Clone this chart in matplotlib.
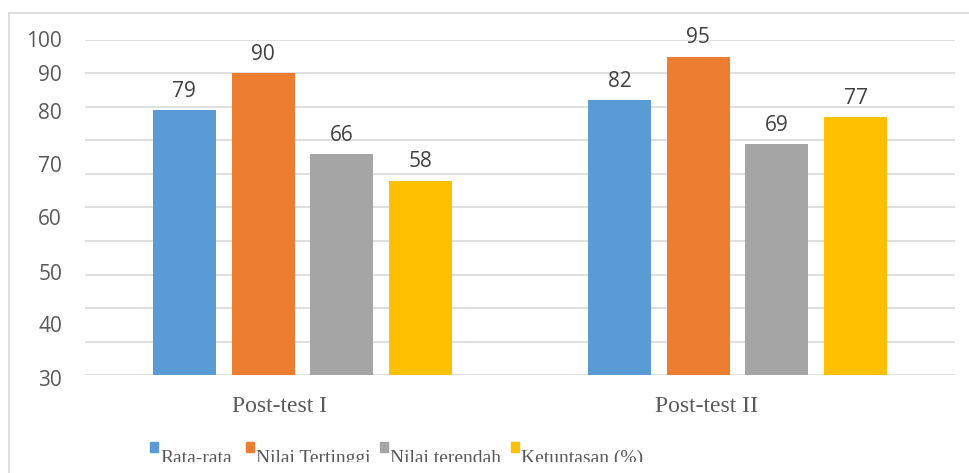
import matplotlib
matplotlib.use("Agg")
import matplotlib.pyplot as plt
from matplotlib.patches import Rectangle
from matplotlib.lines import Line2D
from matplotlib.transforms import Bbox, TransformedBbox
import numpy as np

categories = ["Post-test I", "Post-test II"]
series = ["Rata-rata", "Nilai Tertinggi", "Nilai terendah", "Ketuntasan (%)"]
rata_rata = [79, 82]
nilai_tertinggi = [90, 95]
nilai_terendah = [66, 69]
ketuntasan = [58, 77]
y_labels = ["100", "90", "80", "70", "60", "50", "40", "30"]

values = [rata_rata, nilai_tertinggi, nilai_terendah, ketuntasan]
colors = ["#5B9BD5", "#ED7D31", "#A5A5A5", "#FFC000"]

# where the typed-in axis labels sit (data units on the 0-100 scale)
y_label_pos = [99.7, 89.4, 78.1, 62.1, 46.3, 30.1, 14.6, -1.5]
# category captions sit a little left of the group centres
cat_shift = [-0.052, -0.072]
# legend swatch left edges, in pixels
legend_x = [150, 246, 380, 511]

W, H = 970, 473
fig = plt.figure(figsize=(W / 100, H / 100), dpi=100)
ax = fig.add_axes([85 / W, 1 - 375 / H, 870 / W, 335 / H])

x = np.arange(len(categories))
width = 0.145
step = 0.181
for i, (vals, c) in enumerate(zip(values, colors)):
    pos = x + (i - 1.5) * step
    bars = ax.bar(pos, vals, width, color=c, zorder=3)
    for b, v in zip(bars, vals):
        ax.annotate(str(v), (b.get_x() + b.get_width() / 2, v),
                    xytext=(0, 6), textcoords="offset points",
                    ha="center", va="bottom", fontsize=15,
                    family="Open Sans", color="#404040")

ax.set_xlim(-0.5, 1.5)
ax.set_ylim(0, 100)
ax.set_yticks(np.arange(0, 101, 10))
ax.set_yticklabels([])
ax.tick_params(axis="y", length=0)
ax.grid(axis="y", color="#D9D9D9", linewidth=1.2, zorder=0)
for s in ax.spines.values():
    s.set_visible(False)

ax.set_xticks(x)
ax.set_xticklabels([])
ax.tick_params(axis="x", length=0)
for xi, name, sh in zip(x, categories, cat_shift):
    ax.text(xi + sh, -37 / 335, name, transform=ax.get_xaxis_transform(),
            ha="center", va="baseline", fontsize=17,
            family="Liberation Serif", color="#595959")

for lab, p in zip(y_labels, y_label_pos):
    ax.text(-0.0264, p, lab, transform=ax.get_yaxis_transform(),
            ha="right", va="center", fontsize=15, family="Open Sans",
            color="#595959", clip_on=False)

# legend along the bottom, cut off by the frame edge
clip = TransformedBbox(Bbox([[0, 11 / H], [1, 1]]), fig.transFigure)
for name, c, lx in zip(series, colors, legend_x):
    fig.patches.append(Rectangle((lx / W, 1 - 452 / H), 8 / W, 10 / H,
                                 transform=fig.transFigure, color=c))
    t = fig.text((lx + 10) / W, 1 - 463 / H, name, ha="left", va="baseline",
                 fontsize=14, family="Liberation Serif", color="#595959")
    t.set_clip_box(clip)
    t.set_clip_on(True)

# chart frame
fig.add_artist(Line2D([9 / W, 9 / W], [0, 1 - 13 / H],
                      color="#D9D9D9", linewidth=1.2))
fig.add_artist(Line2D([9 / W, 1], [1 - 13 / H, 1 - 13 / H],
                      color="#D9D9D9", linewidth=1.2))

fig.savefig("out.png", dpi=100)
